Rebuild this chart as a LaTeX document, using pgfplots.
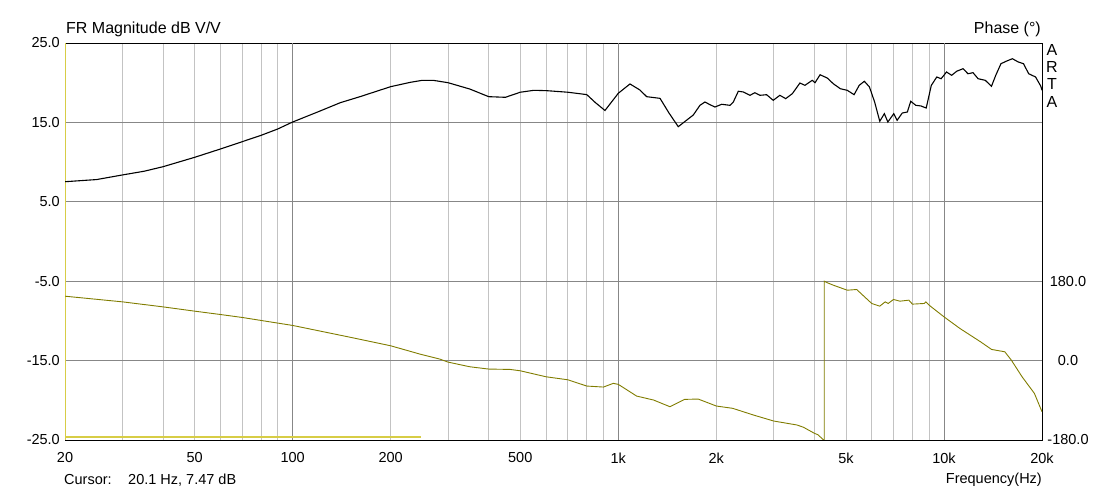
\documentclass[border=0pt]{standalone}
\usepackage{fontspec}
\setmainfont{Liberation Sans}
\usepackage{pgfplots}
\pgfplotsset{compat=1.18}
\definecolor{olivec}{RGB}{128,124,0}
\definecolor{yel}{RGB}{215,205,70}
\definecolor{majg}{RGB}{135,135,135}
\definecolor{ming}{RGB}{195,195,195}
\newcommand{\tfont}{\fontsize{14.5}{16}\selectfont}
\newcommand{\hfont}{\fontsize{16}{18}\selectfont}
\begin{document}
\begin{tikzpicture}[x=1pt,y=1pt]
\useasboundingbox (0,0) rectangle (1106,492);
\begin{axis}[
  at={(65pt,52pt)}, anchor=south west, scale only axis,
  width=977pt, height=397pt,
  xmode=log, xmin=20, xmax=20000, ymin=-25, ymax=25,
  xtick={20,50,100,200,500,1000,2000,5000,10000,20000},
  xticklabels={20,50,100,200,500,1k,2k,5k,10k,20k},
  minor xtick={30,40,50,60,70,80,90,200,300,400,500,600,700,800,900,2000,3000,4000,5000,6000,7000,8000,9000},
  extra x ticks={100,1000,10000}, extra x tick labels={},
  extra x tick style={grid=major},
  ytick={-25,-15,-5,5,15,25},
  yticklabels={-25.0,-15.0,-5.0,5.0,15.0,25.0},
  ymajorgrids=true, xminorgrids=true,
  major grid style={majg, line width=0.8pt},
  minor grid style={ming, line width=0.8pt},
  major tick length=0pt, minor tick length=0pt,
  axis line style={black, line width=0.9pt},
  xticklabel style={font=\tfont, anchor=center, yshift=-18pt, inner sep=0pt},
  yticklabel style={font=\tfont, anchor=east, inner sep=0pt, xshift=-5pt},
]
\addplot[yel, line width=0.8pt, forget plot] coordinates {(20,-25) (20,25)};
\addplot[yel, line width=2pt] coordinates {(20,-24.65) (248,-24.65)};
\addplot[black, line width=1.1pt] coordinates {
(20,7.53) (25,7.8) (30,8.38) (35,8.85) (40,9.42) (50,10.6) (60,11.65) (70,12.57)
(80,13.37) (90,14.17) (100,15.05) (120,16.35) (140,17.48) (161,18.24) (200,19.5)
(230,20.05) (250,20.3) (270,20.3) (300,20.0) (350,19.2) (400,18.24) (450,18.16)
(500,18.8) (550,19.04) (600,19.0) (700,18.8) (800,18.5) (850,17.5) (910,16.5)
(1000,18.67) (1086,19.84) (1165,19.08) (1222,18.24) (1343,18.03) (1430,16.2)
(1528,14.46) (1600,15.1) (1699,15.93) (1781,17.15) (1845,17.57) (1912,17.23)
(1980,16.94) (2078,17.28) (2202,17.15) (2255,17.57) (2336,18.92) (2420,18.83)
(2536,18.41) (2627,18.74) (2722,18.41) (2853,18.49) (2990,17.78) (3134,18.41)
(3266,17.99) (3423,18.62) (3611,19.96) (3742,19.67) (3940,20.30) (4018,20.0)
(4164,21.0) (4381,20.59) (4572,19.87) (4807,19.24) (5047,19.04) (5296,18.49)
(5492,19.67) (5695,20.18) (5904,19.46) (6124,17.57) (6351,15.14) (6560,16.10)
(6725,15.05) (7013,16.10) (7181,15.26) (7445,16.18) (7719,16.31) (7905,17.66)
(8193,17.15) (8496,17.07) (8819,16.81) (9144,19.67) (9505,20.72) (9798,20.50)
(10183,21.35) (10555,20.93) (10940,21.44) (11440,21.76) (11850,21.13)
(12280,21.26) (12730,20.50) (13390,20.30) (13990,19.55) (14420,20.93)
(14960,22.39) (15520,22.70) (16220,23.02) (16910,22.61) (17550,22.39)
(18200,21.13) (19110,20.72) (19840,19.55) (20000,19.04)
};
\end{axis}
\begin{axis}[
  at={(65pt,52pt)}, anchor=south west, scale only axis,
  width=977pt, height=397pt,
  xmode=log, xmin=20, xmax=20000, ymin=-180, ymax=720,
  axis x line=none, axis y line*=right,
  ytick={-180,0,180}, yticklabels={-180.0,0.0,180.0},
  major tick length=0pt, minor tick length=0pt,
  axis line style={black, line width=0.9pt},
  yticklabel style={font=\tfont, anchor=center, inner sep=0pt, xshift=26pt},
]
\addplot[olivec, line width=0.9pt] coordinates {
(20,146) (30,133.2) (40,121.8) (50,112.1) (60,104.5) (70,97.8) (80,91) (100,79.7)
(150,53) (200,33.6) (246,14.7) (283,3.4) (300,-3.4) (350,-14) (400,-19.2)
(465,-20) (500,-23.1) (600,-36.7) (700,-43.5) (800,-57.7) (900,-60) (965,-51.6)
(1000,-53.9) (1138,-80.4) (1283,-89.4) (1441,-104.6) (1598,-87.9) (1760,-87.2)
(2000,-103) (2245,-108.2) (2600,-123.4) (3000,-137) (3537,-146) (3700,-151)
(4000,-164.8) (4100,-168) (4270,-180) (4290,-180) (4290,180) (4400,176)
(4571,171) (5047,159.6) (5393,161.2) (6000,129.5) (6350,123.4) (6600,133.2)
(6738,129.5) (7000,138.6) (7322,134.7) (7800,137) (8000,128) (8700,129.5)
(8800,133.2) (9000,125.7) (10000,99.2) (11190,72.9) (12950,42.6) (14000,25.3)
(15370,20) (16100,1.1) (17370,-36.7) (18950,-74.3) (20000,-116)
};
\end{axis}
\node[anchor=west, inner sep=0pt, font=\hfont] at (66,463) {FR Magnitude dB V/V};
\node[anchor=east, inner sep=0pt, font=\hfont] at (1041,463) {Phase (°)};
\node[anchor=center, inner sep=0pt, font=\hfont] at (1052,442) {A};
\node[anchor=center, inner sep=0pt, font=\hfont] at (1052,425) {R};
\node[anchor=center, inner sep=0pt, font=\hfont] at (1052,408) {T};
\node[anchor=center, inner sep=0pt, font=\hfont] at (1052,390) {A};
\node[anchor=west, inner sep=0pt, font=\tfont] at (64,12) {Cursor:};
\node[anchor=west, inner sep=0pt, font=\tfont] at (128,12) {20.1 Hz, 7.47 dB};
\node[anchor=east, inner sep=0pt, font=\tfont] at (1042,12) {Frequency(Hz)};
\end{tikzpicture}
\end{document}
